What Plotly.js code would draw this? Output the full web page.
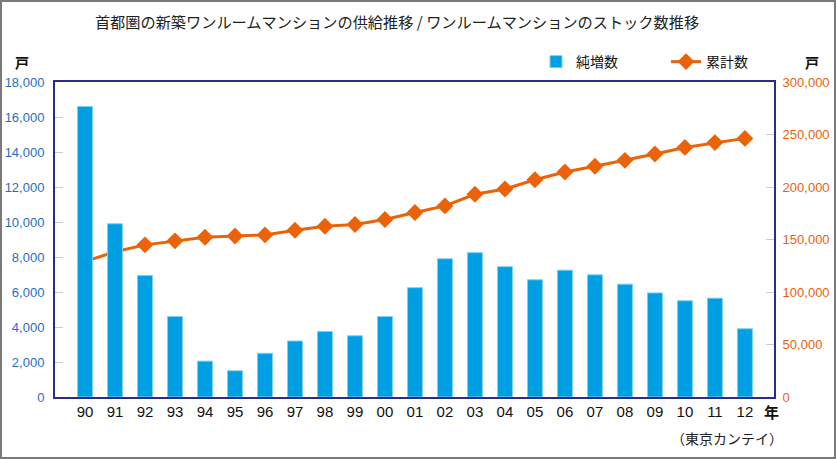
<!DOCTYPE html>
<html>
<head>
<meta charset="utf-8">
<script src="https://cdn.plot.ly/plotly-3.0.1.min.js"></script>
<style>
html,body{margin:0;padding:0;background:#fff;}
#wrap{position:relative;width:836px;height:459px;}
#chart{width:836px;height:459px;}
#frame{position:absolute;left:0;top:0;width:836px;height:459px;box-sizing:border-box;border:2px solid #7a7a7a;pointer-events:none;}
</style>
</head>
<body>
<div id="wrap"><div id="chart"></div><div id="frame"></div></div>
<script>
const years = ['90','91','92','93','94','95','96','97','98','99','00','01','02','03','04','05','06','07','08','09','10','11','12'];
const netIncrease = [16600, 9900, 6950, 4600, 2050, 1500, 2500, 3200, 3750, 3500, 4600, 6250, 7900, 8250, 7450, 6700, 7250, 6980, 6450, 5950, 5500, 5650, 3900];
const cumulative = [129000, 138300, 144900, 148700, 152200, 153400, 154400, 158800, 162600, 164300, 169000, 175700, 182000, 193100, 198100, 206900, 214300, 219800, 225400, 231500, 237700, 242300, 246300];
const leftTicks = [0, 2000, 4000, 6000, 8000, 10000, 12000, 14000, 16000, 18000];
const rightTicks = [0, 50000, 100000, 150000, 200000, 250000, 300000];

const fmt = v => v.toLocaleString('en-US');
const navy = '#2b2b8c';
const baseFont = 'Liberation Sans, Arial, sans-serif';
const jpFont = 'Noto Sans CJK JP, sans-serif';
const PW = 719, PH = 315, ML = 55;

const lineTrace = {
  type: 'scatter', mode: 'lines+markers', name: '累計数', legend: 'legend2',
  x: years, y: cumulative, xaxis: 'x', yaxis: 'y',
  line: {color: '#eb6208', width: 3},
  marker: {symbol: 'diamond', size: 13, color: '#eb6208'}
};
const barTrace = {
  type: 'bar', name: '純増数', legend: 'legend',
  x: years, y: netIncrease, xaxis: 'x', yaxis: 'y2',
  width: 0.5,
  marker: {color: '#009fe3', line: {color: '#7fd0f2', width: 1}}
};

const legendFont = {family: jpFont, size: 14, color: '#111'};
const layout = {
  width: 836, height: 459,
  margin: {l: ML, r: 62, t: 82, b: 62},
  paper_bgcolor: '#fff', plot_bgcolor: '#fff',
  showlegend: true,
  legend: {
    orientation: 'h', xref: 'paper', x: (536-ML)/PW, xanchor: 'left', y: 1 + 20/PH, yanchor: 'middle',
    font: legendFont, bgcolor: 'rgba(0,0,0,0)', borderwidth: 0
  },
  legend2: {
    orientation: 'h', xref: 'paper', x: (666-ML)/PW, xanchor: 'left', y: 1 + 20/PH, yanchor: 'middle',
    font: legendFont, bgcolor: 'rgba(0,0,0,0)', borderwidth: 0
  },
  title: {
    text: '首都圏の新築ワンルームマンションの供給推移 / ワンルームマンションのストック数推移',
    font: {family: jpFont, size: 15.2, color: '#222'},
    xref: 'container', x: 397/836, xanchor: 'center',
    yref: 'container', y: 1 - 23/459, yanchor: 'middle'
  },
  xaxis: {
    type: 'category', showline: true, linecolor: navy, linewidth: 2, mirror: true,
    ticks: '', showgrid: false, zeroline: false,
    tickfont: {family: baseFont, size: 15, color: '#111'},
    range: [-1.0, 22.97]
  },
  yaxis: {
    side: 'right', range: [0, 300000],
    tickvals: rightTicks, ticktext: rightTicks.map(fmt),
    showline: true, linecolor: navy, linewidth: 2,
    ticks: 'inside', ticklen: 8, tickcolor: '#cccccc', tickwidth: 1,
    showgrid: false, zeroline: false, ticklabelstandoff: 4,
    tickfont: {family: baseFont, size: 13, color: '#eb6208'}
  },
  yaxis2: {
    overlaying: 'y', side: 'left', range: [0, 18000],
    tickvals: leftTicks, ticktext: leftTicks.map(fmt),
    showline: true, linecolor: navy, linewidth: 2,
    ticks: 'inside', ticklen: 8, tickcolor: '#cccccc', tickwidth: 1,
    showgrid: false, zeroline: false, ticklabelstandoff: 6,
    tickfont: {family: baseFont, size: 13, color: '#1f6fbf'}
  },
  annotations: [
    {text: '<b>戸</b>', xref: 'paper', yref: 'paper', x: (22-ML)/PW, y: 1 + 20/PH, showarrow: false,
     xanchor: 'center', yanchor: 'middle', font: {family: jpFont, size: 14, color: '#111'}},
    {text: '<b>戸</b>', xref: 'paper', yref: 'paper', x: (812-ML)/PW, y: 1 + 20/PH, showarrow: false,
     xanchor: 'center', yanchor: 'middle', font: {family: jpFont, size: 14, color: '#111'}},
    {text: '<b>年</b>', xref: 'paper', yref: 'paper', x: (771-ML)/PW, y: -14/PH, showarrow: false,
     xanchor: 'center', yanchor: 'middle', font: {family: jpFont, size: 15, color: '#111'}},
    {text: '（東京カンテイ）', xref: 'paper', yref: 'paper', x: (727-ML)/PW, y: -41/PH, showarrow: false,
     xanchor: 'center', yanchor: 'middle', font: {family: jpFont, size: 14, color: '#222'}}
  ]
};

Plotly.newPlot('chart', [lineTrace, barTrace], layout, {displayModeBar: false, staticPlot: true});
</script>
</body>
</html>
